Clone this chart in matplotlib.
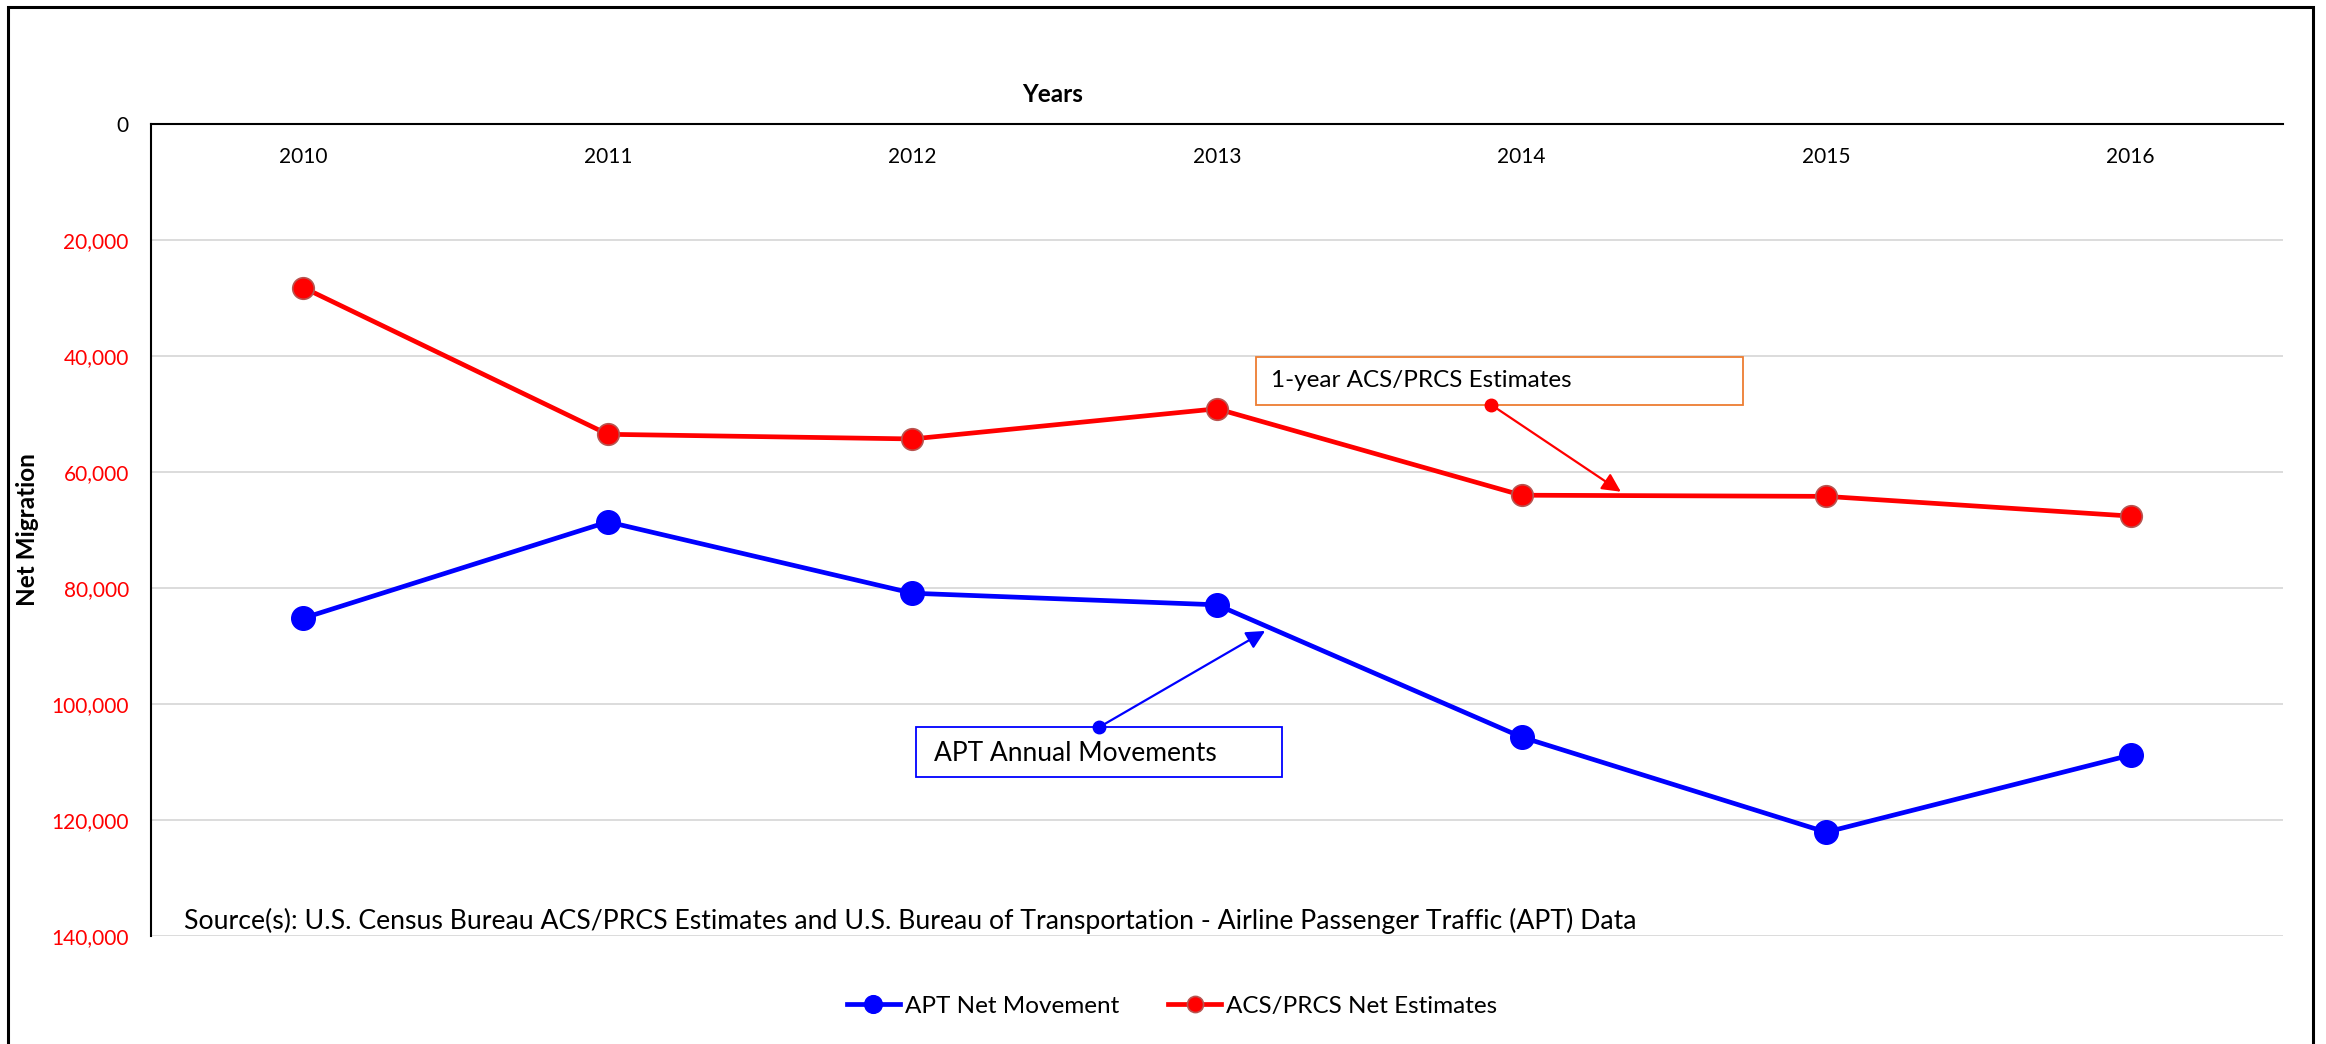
import matplotlib
matplotlib.use("Agg")
import matplotlib.pyplot as plt
from matplotlib.patches import Rectangle
from matplotlib.ticker import FuncFormatter

years = ["2010", "2011", "2012", "2013", "2014", "2015", "2016"]
apt_net = [85200, 68600, 80900, 82900, 105700, 122100, 108800]
acs_net = [28200, 53500, 54300, 49100, 64000, 64200, 67600]
y_ticks = [0, 20000, 40000, 60000, 80000, 100000, 120000, 140000]

plt.rcParams['font.family'] = ['Lato', 'DejaVu Sans']

fig = plt.figure(figsize=(23.26, 10.44), dpi=100)
ax = fig.add_axes([151/2326, 1-936/1044, (2283-151)/2326, (936-124)/1044])

x = list(range(len(years)))
ax.plot(x, apt_net, color='#0000FF', lw=3.4, marker='o', ms=17,
        mec='#0000FF', mfc='#0000FF', label='APT Net Movement', zorder=3)
ax.plot(x, acs_net, color='#FF0000', lw=3.4, marker='o', ms=15.5,
        mec='#b85450', mew=1.2, mfc='#FF0000', label='ACS/PRCS Net Estimates', zorder=3)

ax.set_xlim(-0.5, len(years)-0.5)
ax.set_ylim(140000, 0)
ax.set_yticks(y_ticks)
ax.yaxis.set_major_formatter(FuncFormatter(lambda v, p: f"{int(v):,}"))
ax.tick_params(axis='y', length=0, pad=16, labelsize=15)
for lab, v in zip(ax.get_yticklabels(), y_ticks):
    lab.set_color('black' if v == 0 else '#FF0000')

ax.set_xticks(x)
ax.set_xticklabels(years)
ax.tick_params(axis='x', length=0, labelsize=15, labeltop=True, labelbottom=False,
               top=False, bottom=False, pad=-31)

ax.grid(axis='y', color='#d9d9d9', lw=1.3)
ax.set_axisbelow(True)
for s in ['right', 'bottom']:
    ax.spines[s].set_visible(False)
ax.spines['top'].set_linewidth(1.5)
ax.spines['left'].set_linewidth(1.5)

ax.set_xlabel('Years', fontsize=17.5, fontweight='bold')
ax.xaxis.set_label_position('top')
ax.xaxis.set_label_coords((1053-151)/2132, (936-95)/812)
ax.xaxis.label.set_va('center')
ax.set_ylabel('Net Migration', fontsize=17.5, fontweight='bold')
ax.yaxis.set_label_coords((28-151)/2132, 0.5)
ax.yaxis.label.set_va('center')

# Source note
ax.text(0.0155, 0.002, 'Source(s): U.S. Census Bureau ACS/PRCS Estimates and U.S. Bureau of Transportation - Airline Passenger Traffic (APT) Data',
        transform=ax.transAxes, fontsize=19.2, ha='left', va='bottom')

# Annotation: 1-year ACS/PRCS Estimates
ax.add_patch(Rectangle((3.128, 40200), 4.727-3.128, 48400-40200, fill=False,
                       ec='#ED7D31', lw=1.3, zorder=4))
ax.text(3.177, 44300, '1-year ACS/PRCS Estimates', fontsize=17.5, ha='left', va='center', zorder=5)
ax.annotate('', xy=(4.326, 63400), xytext=(3.900, 48400),
            arrowprops=dict(arrowstyle='-|>', color='#FF0000', lw=1.6, mutation_scale=28,
                            shrinkA=0, shrinkB=0), zorder=5)
ax.plot([3.900], [48400], 'o', color='#FF0000', ms=9, zorder=6)

# Annotation: APT Annual Movements
ax.add_patch(Rectangle((2.012, 104000), 3.213-2.012, 112600-104000, fill=False,
                       ec='#0000FF', lw=1.3, zorder=4))
ax.text(2.07, 108600, 'APT Annual Movements', fontsize=19, ha='left', va='center', zorder=5)
ax.annotate('', xy=(3.158, 87400), xytext=(2.613, 104000),
            arrowprops=dict(arrowstyle='-|>', color='#0000FF', lw=1.6, mutation_scale=28,
                            shrinkA=0, shrinkB=0), zorder=5)
ax.plot([2.613], [104000], 'o', color='#0000FF', ms=9, zorder=6)

fig.legend(loc='center', bbox_to_anchor=(1172/2326, 1-1006/1044), ncol=2, frameon=False,
           fontsize=17.5, handlelength=2.2, columnspacing=2.0, handletextpad=0.2,
           markerscale=0.75)

# Outer chart border
fig.patches.append(Rectangle((8/2326, -0.05), (2313-8)/2326, 1.05-7/1044, transform=fig.transFigure,
                             fill=False, ec='black', lw=2.2))

fig.savefig('out.png', dpi=100)
